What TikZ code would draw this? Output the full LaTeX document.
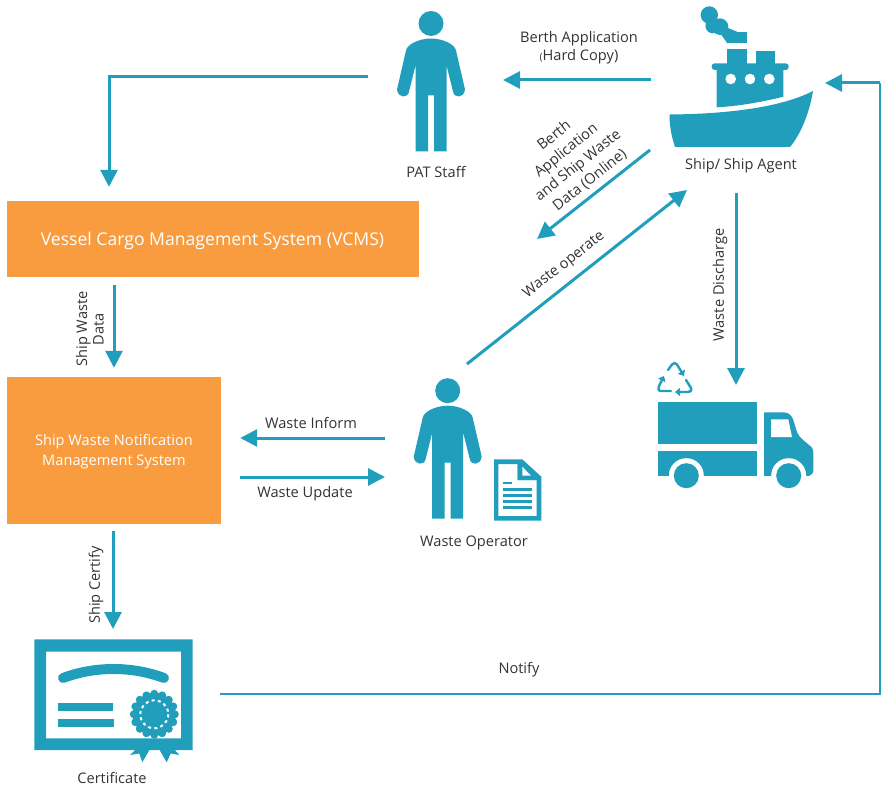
\documentclass[tikz,border=0pt]{standalone}
\usepackage{fontspec}
\setmainfont{Open Sans}
\usetikzlibrary{arrows.meta,calc}
\definecolor{teal}{HTML}{219EBC}
\definecolor{boxorange}{HTML}{F99C40}
\definecolor{labelgray}{HTML}{333333}
\tikzset{
  flow/.style={draw=teal,line width=3pt,-{Triangle[length=17pt,width=17pt]}},
  thinflow/.style={draw=teal,line width=1.3pt},
  orangebox/.style={fill=boxorange,draw=none,text=white,inner sep=0pt,align=center},
  zone/.style={inner sep=0pt,outer sep=0pt,draw=none},
  lbl/.style={text=labelgray,font=\fontsize{14.6}{18}\selectfont,align=center,inner sep=0pt},
  person/.pic={
    \fill[teal] (0,0) circle (12.5);
    \fill[teal] (-15.5,128) -- (-3,128) -- (-3,72) -- (3,72) -- (3,128) -- (15.5,128)
      -- (15.5,42) -- (22,68) .. controls (23,75) and (33,75) .. (34,66)
      -- (25,27) .. controls (24,21) and (12,15) .. (0,15)
      .. controls (-12,15) and (-24,21) .. (-25,27)
      -- (-34,66) .. controls (-33,75) and (-23,75) .. (-22,68) -- (-15.5,42) -- cycle;
  }
}
\begin{document}
\begin{tikzpicture}[x=1pt,y=-1pt]
\useasboundingbox (0,0) rectangle (881,786);

% boxes
\node[orangebox,minimum width=412pt,minimum height=76pt] (vcms) at (213,239) {};
\node[text=white,font=\fontsize{17.6}{21}\selectfont,inner sep=0pt] (lvcms) at (212.5,241) {Vessel Cargo Management System (VCMS)};
\node[orangebox,minimum width=214pt,minimum height=147pt] (swnms) at (114,450.5) {};
\node[text=white,font=\fontsize{14.6}{19.5}\selectfont,inner sep=0pt,align=center] (lswnms) at (114,451.5) {Ship Waste Notification\\Management System};

% invisible zones of the icons
\node[zone,minimum width=126pt,minimum height=146pt] (pat) at (431,77) {};
\node[zone,minimum width=174pt,minimum height=193pt] (ship) at (738,96.5) {};
\node[zone,minimum width=156pt,minimum height=157pt] (operator) at (463,442.5) {};
\node[zone,minimum width=154pt,minimum height=104pt] (truck) at (736,437) {};
\node[zone,minimum width=158pt,minimum height=130pt] (cert) at (113,694) {};

% people
\pic at (431,23.5) {person};
\pic at (447.7,390.7) {person};

% ship
\fill[teal] (669.5,114.5) .. controls (725,114) and (780,108) .. (813,91)
  .. controls (809,115) and (800,135) .. (790,147) -- (675,147)
  .. controls (671,135) and (669.5,125) .. (669.5,114.5) -- cycle;
\fill[teal] (716.7,107.3) -- (716.7,68) -- (783.3,68) -- (783.3,96.7) .. controls (762,102) and (740,106) .. (716.7,107.3) -- cycle;
\fill[teal,rounded corners=3pt] (711.7,63.3) rectangle (788.7,70);
\fill[teal] (727.3,49.3) rectangle (746.7,64);
\fill[teal] (755.7,51) rectangle (775,64);
\fill[teal] (727.3,31.7) rectangle (746.7,43.3);
\fill[white] (730.7,79) circle (5.3) (750,79) circle (5.3) (769.3,79) circle (5.3);
\fill[teal] (709.3,15) circle (8.7) (712.7,26) circle (7.3) (720,26.7) circle (8.3);
\fill[teal] (720,33) -- (728,28) -- (737,31.7) -- (727.3,43.3) -- cycle;

% truck
\fill[teal] (658,401.7) rectangle (757,444.3);
\fill[teal] (658,451) rectangle (757,476);
\fill[teal] (764,412.3) -- (783.3,412.3) .. controls (789,412.3) and (792,416) .. (793.3,420)
  -- (797,432) .. controls (799,438) and (806,442) .. (811.7,447.3)
  .. controls (813,449) and (813.3,451) .. (813.3,453) -- (813.3,470)
  .. controls (813.3,474) and (810,476) .. (806.7,476) -- (764,476) -- cycle;
\fill[white] (771,419.3) -- (788.3,419.3) -- (792,437) -- (771,437) -- cycle;
\fill[white] (686.3,475.7) circle (17.5) (788.7,475.7) circle (17.5);
\fill[white] (660,476) rectangle (810,490);
\fill[teal] (658,470) rectangle (669,476);
\fill[teal] (704,470) rectangle (757,476);
\fill[teal] (764,470) rectangle (771,476);
\fill[teal] (806,470) -- (813.3,470) .. controls (813.3,474) and (810,476) .. (806.7,476) -- cycle;
\fill[teal] (686.3,475.7) circle (12.5) (788.7,475.7) circle (12.5);

% recycling symbol
\begin{scope}[draw=teal,line width=2.4pt,line join=round,line cap=round]
  \draw[-{Triangle[length=5pt,width=8pt]}] (671,391) -- (661,391) .. controls (658,391) and (658,388) .. (659,386) -- (664,376);
  \draw[-{Triangle[length=5pt,width=8pt]}] (668,370) -- (672,364.5) .. controls (674,362.5) and (675,362.5) .. (677,364.5) -- (684,376);
  \draw[-{Triangle[length=5pt,width=8pt]}] (686,380) -- (691,388) .. controls (692,391) and (690,392) .. (688,392) -- (675,392);
\end{scope}

% document
\fill[teal,even odd rule] (494,459.3) -- (522.3,459.3) -- (541.3,476.7) -- (541.3,520.7) -- (494,520.7) -- cycle
  (498.3,464) -- (517.7,464) -- (517.7,480) -- (536.7,480) -- (536.7,516) -- (498.3,516) -- cycle;
\fill[teal] (503.3,481.7) rectangle (512.3,484.3);
\fill[teal] (503.3,487.7) rectangle (532,490.7);
\fill[teal] (503.3,493.5) rectangle (532,496.7);
\fill[teal] (503.3,499.7) rectangle (532,503);
\fill[teal] (503.3,506) rectangle (532,509);
\fill[teal] (517.7,464) -- (522.3,464) -- (522.3,466.7) -- (531,475.7) -- (536.7,480) -- (517.7,480) -- cycle;
\fill[white] (522.3,466.7) -- (531,475.7) -- (522.3,475.7) -- cycle;

% certificate
\fill[teal,even odd rule] (34.3,639.3) rectangle (192.7,750) (46,651.7) rectangle (181,738.3);
\draw[teal,line width=10pt,line cap=round] (63,678) .. controls (95,666) and (132,666) .. (164,678);
\fill[teal] (58,702.7) rectangle (113.3,710.7);
\fill[teal] (58,719) rectangle (114,727);
\fill[teal] (136,749) -- (130,755) -- (139.3,753.5) -- (142.3,762.3) -- (150,749) -- cycle;
\fill[teal] (159,749) -- (166.7,762.3) -- (170.7,753.5) -- (179.3,755) -- (174,749) -- cycle;
\fill[teal] (154.3,714.3) circle (21.5);
\foreach \a in {0,22.5,...,337.5}{\fill[teal] (154.3,714.3) ++(\a:20.5) circle (4);}
\draw[white,line width=2pt,dash pattern=on 3pt off 3.3pt] (154.3,714.3) circle (14);

% connectors
\draw[flow] (pat.west) -| ([xshift=-104pt,yshift=14pt]vcms.north);
\draw[flow] ([yshift=16.5pt]ship.west) -- ([yshift=16.5pt,xshift=-148pt]ship.west);
\coordinate (onlineEnd) at (537,239);
\draw[flow] ([xshift=-1pt,yshift=-53.5pt]ship.west) -- (onlineEnd);
\draw[flow] ([xshift=4pt]operator.north) -- ([xshift=-51pt,yshift=3pt]ship.south);
\draw[flow] ([xshift=-2pt]ship.south) -- (truck.north);
\draw[flow] ([xshift=-99pt,yshift=-8pt]vcms.south) -- ([yshift=9pt]swnms.north);
\draw[flow] ([yshift=4.5pt]operator.west) -- ([xshift=19pt,yshift=12.5pt]swnms.east);
\draw[flow] ([xshift=19pt,yshift=-26.5pt]swnms.east) -- ([yshift=-34.5pt]operator.west);
\draw[flow] ([xshift=-1pt,yshift=-7pt]swnms.south) -- (cert.north);
\coordinate (notifyCorner) at (880,83);
\draw[thinflow] ([xshift=28pt]cert.east) -| (notifyCorner);
\draw[flow] (notifyCorner) -- ([yshift=13.5pt]ship.east);

% labels
\node[lbl] (lpat) at (436,172) {PAT Staff};
\node[lbl] (lship) at (741,166) {Ship/ Ship Agent};
\node[lbl] (loperator) at (474,543) {Waste Operator};
\node[lbl] (lcert) at (112,778) {Certificate};
\node[lbl] (lberth) at (579,48) {Berth Application\\{\fontsize{10}{10}\selectfont(}Hard Copy)};
\node[lbl,rotate=38.6,font=\fontsize{14.6}{19}\selectfont] (lonline) at (572,158) {Berth\\Application\\and Ship Waste\\Data (Online)};
\node[lbl,rotate=38] (loperate) at (564,265) {Waste operate};
\node[lbl,rotate=90] (ldischarge) at (720,285) {Waste Discharge};
\node[lbl,rotate=90,font=\fontsize{14.6}{16.5}\selectfont] (ldata) at (90,329) {Ship Waste\\Data};
\node[lbl] (linform) at (311,423) {Waste Inform};
\node[lbl] (lupdate) at (305,494) {Waste Update};
\node[lbl,rotate=90] (lcertify) at (96,585) {Ship Certify};
\node[lbl] (lnotify) at (519,670) {Notify};
\end{tikzpicture}
\end{document}
